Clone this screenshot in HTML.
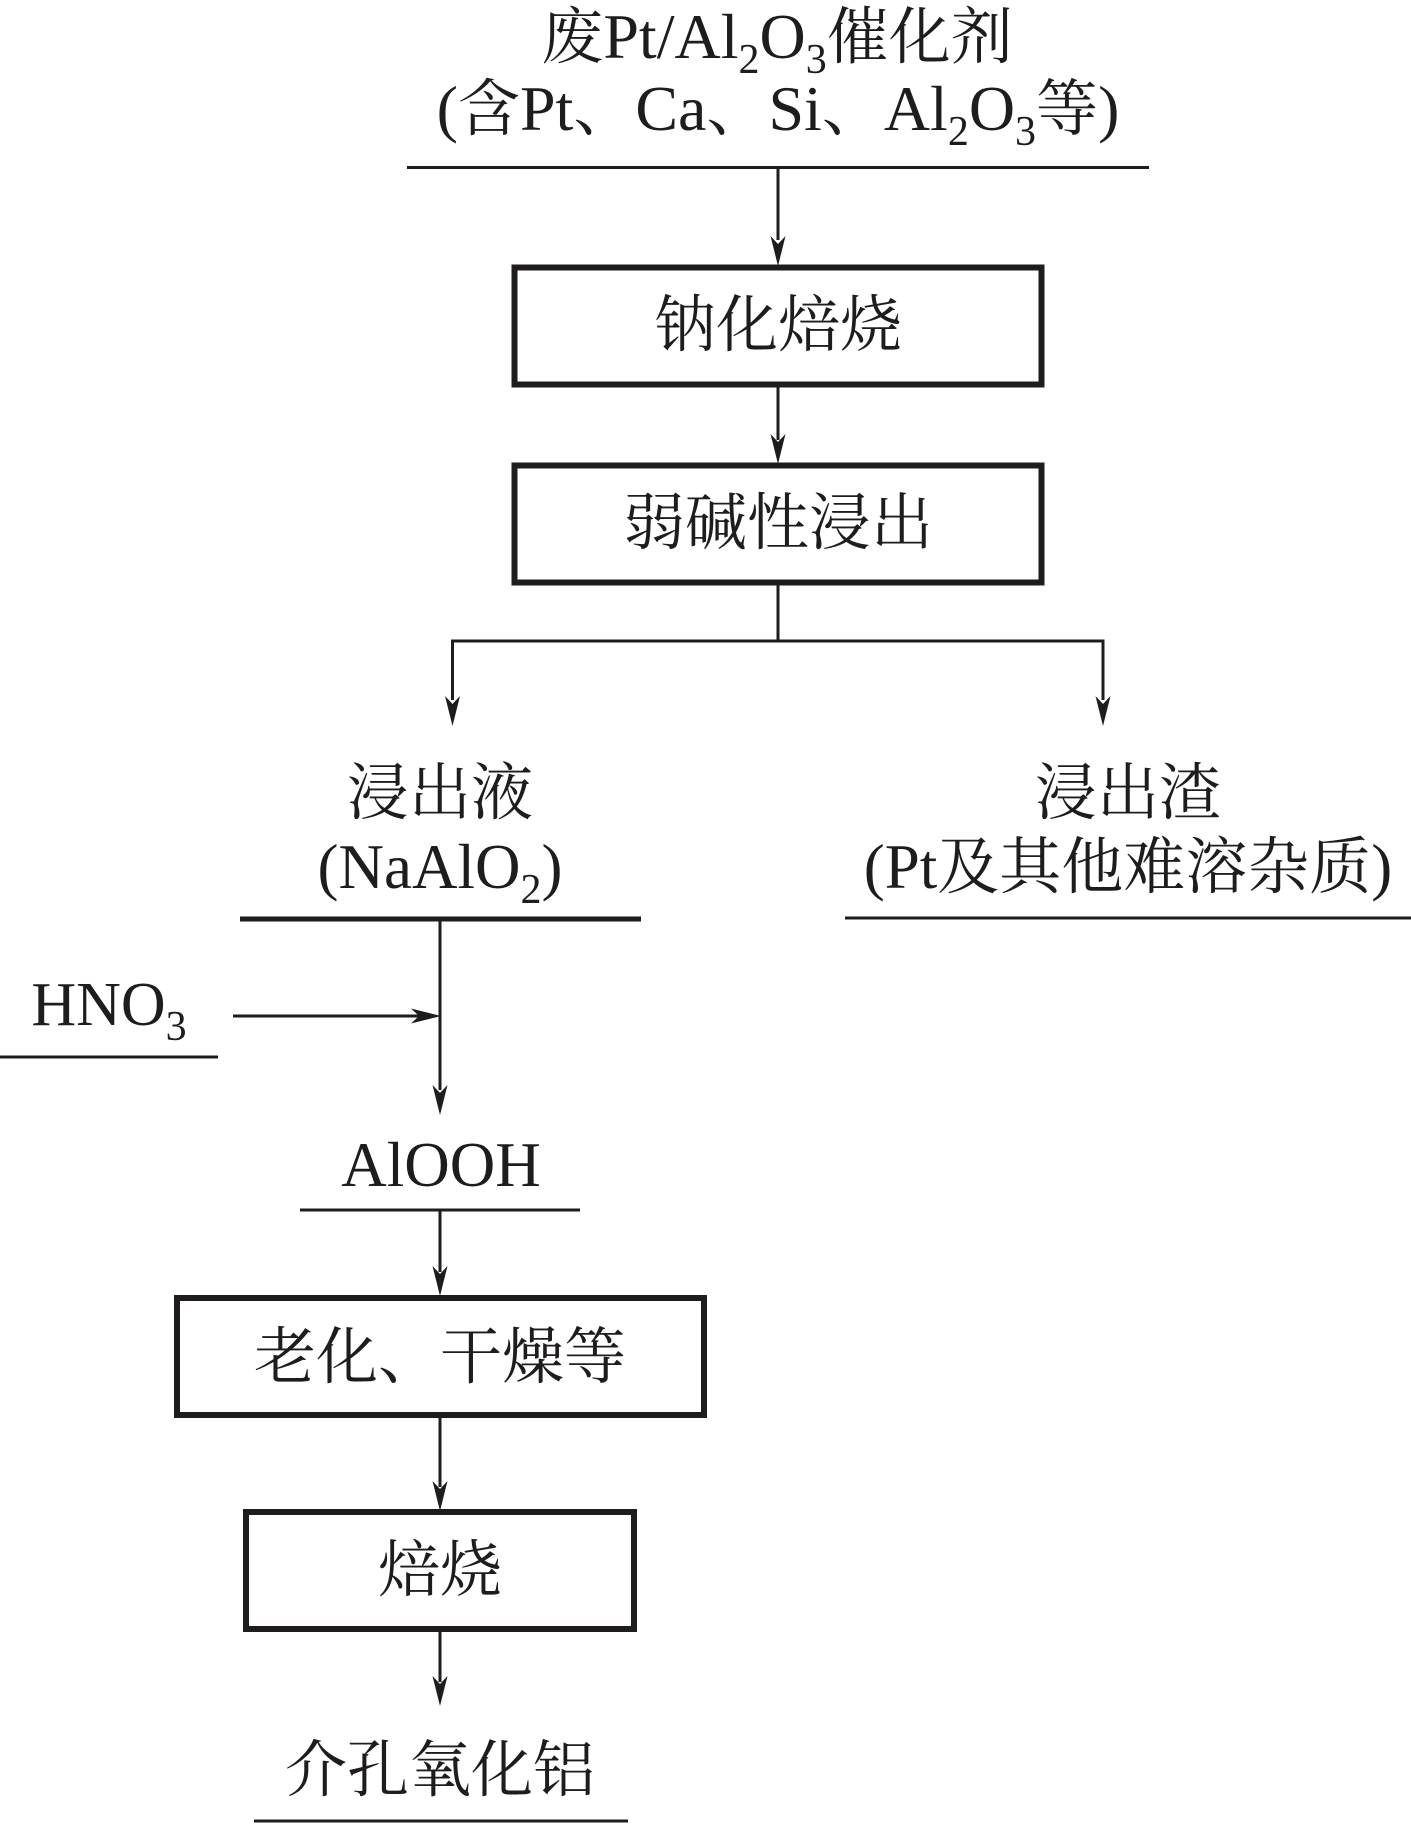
<!DOCTYPE html>
<html lang="zh">
<head>
<meta charset="utf-8">
<style>
html,body{margin:0;padding:0;background:#fff}
svg{display:block}
text{font-family:"Liberation Serif","Noto Serif CJK SC",serif;font-size:62px;fill:#1f1c1d;text-anchor:middle}
.l{font-size:64px}
.m{font-size:63px}
.s{font-size:42px}
</style>
</head>
<body>
<svg width="1411" height="1824" viewBox="0 0 1411 1824" xmlns="http://www.w3.org/2000/svg">
<rect width="1411" height="1824" fill="#fff"/>
<g stroke="#1f1c1d" fill="none">
  <!-- lines -->
  <path stroke-width="3" d="M407 167.5H1149"/>
  <path stroke-width="3" d="M778 167V240"/>
  <path stroke-width="3" d="M778 385V440"/>
  <path stroke-width="3" d="M778 583V641"/>
  <path stroke-width="3" d="M452.500 700V641H1103V700"/>
  <path stroke-width="5" d="M240 919H641"/>
  <path stroke-width="3" d="M845 918H1411"/>
  <path stroke-width="3" d="M440 919V1090"/>
  <path stroke-width="3" d="M0 1057H218"/>
  <path stroke-width="3" d="M233 1016H420"/>
  <path stroke-width="3" d="M300 1210H580"/>
  <path stroke-width="3" d="M440 1210V1272"/>
  <path stroke-width="3" d="M440 1415V1487"/>
  <path stroke-width="3" d="M440 1629V1682"/>
  <path stroke-width="3" d="M254 1821H628"/>
  <!-- boxes -->
  <rect x="514.5" y="267.5" width="527" height="117" stroke-width="6"/>
  <rect x="514.5" y="465.5" width="527" height="117" stroke-width="6"/>
  <rect x="177" y="1298" width="527" height="117" stroke-width="6"/>
  <rect x="246" y="1512" width="388" height="117" stroke-width="6"/>
</g>
<!-- arrowheads -->
<g fill="#1f1c1d">
  <path d="M778 266l-7.500-30 7.500 8 7.500-8z"/>
  <path d="M778 464l-7.500-30 7.500 8 7.500-8z"/>
  <path d="M452.500 726l-7.500-30 7.500 8 7.500-8z"/>
  <path d="M1103 726l-7.500-30 7.500 8 7.500-8z"/>
  <path d="M440 1115l-7.500-30 7.500 8 7.500-8z"/>
  <path d="M440 1296l-7.500-30 7.500 8 7.500-8z"/>
  <path d="M440 1511l-7.500-30 7.500 8 7.500-8z"/>
  <path d="M440 1706l-7.500-30 7.500 8 7.500-8z"/>
  <path d="M441 1016l-30-7.500 8 7.500-8 7.500z"/>
</g>
<!-- labels -->
<text x="777" y="58">废<tspan class="l">Pt/Al</tspan><tspan class="s" dy="15">2</tspan><tspan class="l" dy="-15">O</tspan><tspan class="s" dy="15">3</tspan><tspan dy="-15">催化剂</tspan></text>
<text x="778" y="130"><tspan class="l">(</tspan>含<tspan class="l">Pt</tspan>、<tspan class="l">Ca</tspan>、<tspan class="l">Si</tspan>、<tspan class="l">Al</tspan><tspan class="s" dy="15">2</tspan><tspan class="l" dy="-15">O</tspan><tspan class="s" dy="15">3</tspan><tspan dy="-15">等</tspan><tspan class="l">)</tspan></text>
<text x="778" y="346">钠化焙烧</text>
<text x="778" y="544">弱碱性浸出</text>
<text x="440" y="814">浸出液</text>
<text x="440" y="888"><tspan class="m">(NaAlO</tspan><tspan class="s" dy="15">2</tspan><tspan class="m" dy="-15">)</tspan></text>
<text x="1128" y="814">浸出渣</text>
<text x="1128" y="888"><tspan class="m">(Pt</tspan>及其他难溶杂质<tspan class="m">)</tspan></text>
<text x="109" y="1025">HNO<tspan class="s" dy="15">3</tspan></text>
<text x="441" y="1186" class="m">AlOOH</text>
<text x="440" y="1378">老化、干燥等</text>
<text x="440" y="1591">焙烧</text>
<text x="440" y="1791">介孔氧化铝</text>
</svg>
</body>
</html>
